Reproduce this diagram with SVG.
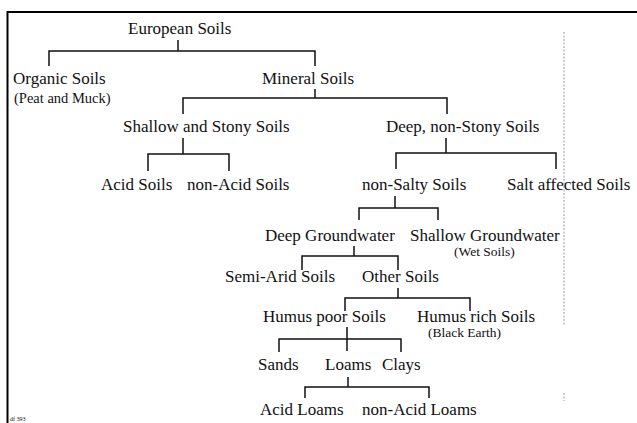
<svg xmlns="http://www.w3.org/2000/svg" width="637" height="423" viewBox="0 0 637 423">
<style>
text{font-family:"Liberation Serif","Times New Roman",serif;font-size:17px;fill:#111}
text.s{font-size:13.5px}
text.p{font-size:14.5px}
text.t{font-size:6px}
#connectors path{fill:none;stroke:#111;stroke-width:1.5}
.frame{fill:none;stroke:#000;stroke-width:2}
.dash{fill:none;stroke:#999;stroke-width:1;stroke-dasharray:2 1.5}
</style>
<rect width="637" height="423" fill="#fff"/>
<path class="frame" d="M7.5,423 V12 H637"/>
<path class="dash" d="M564,32 V325 M564,393 V401"/>
<g id="connectors">
<path d="M178,40 V51 M49,66 V51 H315 V66"/>
<path d="M315,89 V98 M183,114 V98 H447 V114"/>
<path d="M183,138 V154 M148,171 V154 H229 V171"/>
<path d="M446,138 V153 M396,169 V153 H556 V169"/>
<path d="M395,196 V208 M359,220 V208 H438 V220"/>
<path d="M354,246 V256 M302,270 V256 H398 V270"/>
<path d="M398,288 V298 M345,311 V298 H470 V311"/>
<path d="M347,327 V351 M279,352 V339 H401 V352"/>
<path d="M348,377 V387 M305,398 V387 H429 V398"/>
</g>
<g id="european"><text x="128" y="34">European Soils</text></g>
<g id="organic"><text x="13" y="84">Organic Soils</text><text class="p" x="14" y="103">(Peat and Muck)</text></g>
<g id="mineral"><text x="262" y="84">Mineral Soils</text></g>
<g id="shallow-stony"><text x="123" y="132">Shallow and Stony Soils</text></g>
<g id="deep-nonstony"><text x="386" y="132">Deep, non-Stony Soils</text></g>
<g id="acid-soils"><text x="101" y="190">Acid Soils</text></g>
<g id="nonacid-soils"><text x="187" y="190">non-Acid Soils</text></g>
<g id="nonsalty"><text x="362" y="190">non-Salty Soils</text></g>
<g id="salt"><text x="507" y="190">Salt affected Soils</text></g>
<g id="deep-gw"><text x="265" y="241">Deep Groundwater</text></g>
<g id="shallow-gw"><text x="410" y="241">Shallow Groundwater</text><text class="s" x="454" y="256">(Wet Soils)</text></g>
<g id="semiarid"><text x="225" y="282">Semi-Arid Soils</text></g>
<g id="other"><text x="362" y="282">Other Soils</text></g>
<g id="humus-poor"><text x="263" y="322">Humus poor Soils</text></g>
<g id="humus-rich"><text x="417" y="322">Humus rich Soils</text><text class="s" x="428" y="337">(Black Earth)</text></g>
<g id="sands"><text x="258" y="370">Sands</text></g>
<g id="loams"><text x="325" y="370">Loams</text></g>
<g id="clays"><text x="382" y="370">Clays</text></g>
<g id="acid-loams"><text x="260" y="415">Acid Loams</text></g>
<g id="nonacid-loams"><text x="362" y="415">non-Acid Loams</text></g>
<text class="t" x="10" y="421">df 393</text>
</svg>
